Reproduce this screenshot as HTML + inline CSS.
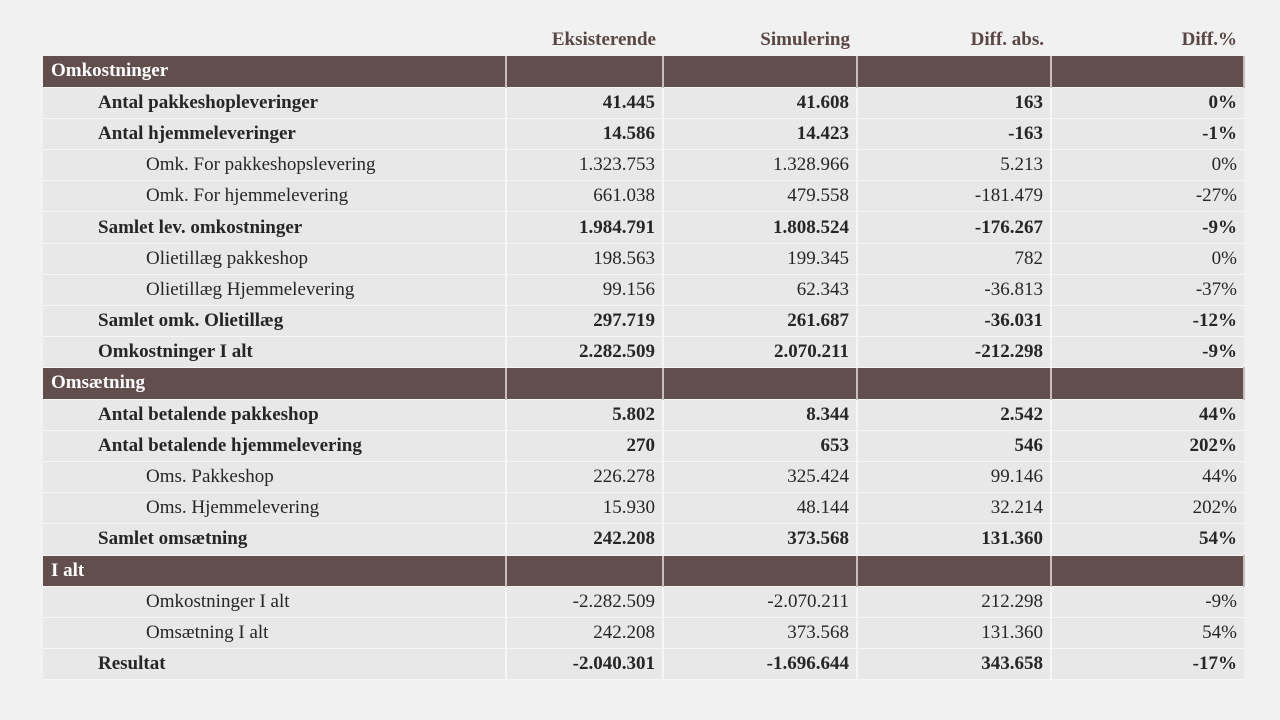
<!DOCTYPE html>
<html><head><meta charset="utf-8"><style>
html,body{margin:0;padding:0;background:#f1f1f1;width:1280px;height:720px;overflow:hidden}
table{position:absolute;left:43px;top:24px;border-collapse:collapse;table-layout:fixed;font-family:"Liberation Serif",serif;font-size:19px;color:#262626}
td{height:31.2px;padding:0 7px 0 0;text-align:right;border-right:2px solid #f6f6f6;border-bottom:1px solid #f6f6f6;box-sizing:border-box;white-space:nowrap;background:#e8e8e8}
td:first-child{text-align:left;padding-left:55px}
tr.h td{background:transparent;border:none;color:#5c4545;font-weight:bold;height:32px}
tr.s td{background:#634e4e;color:#fff;font-weight:bold;border-right:2px solid #c8bcbc;border-bottom:1px solid #f6f6f6}
tr.s td:first-child{padding-left:8px}
tr.b td{font-weight:bold}
tr.i td:first-child{padding-left:103px}
td:last-child{border-right:none}
</style></head><body>
<table>
<colgroup><col style="width:463px"><col style="width:157px"><col style="width:194px"><col style="width:194px"><col style="width:193px"></colgroup>
<tr class="h"><td></td><td>Eksisterende</td><td>Simulering</td><td>Diff. abs.</td><td>Diff.%</td></tr>
<tr class="s"><td>Omkostninger</td><td></td><td></td><td></td><td></td></tr>
<tr class="b"><td>Antal pakkeshopleveringer</td><td>41.445</td><td>41.608</td><td>163</td><td>0%</td></tr>
<tr class="b"><td>Antal hjemmeleveringer</td><td>14.586</td><td>14.423</td><td>-163</td><td>-1%</td></tr>
<tr class="i"><td>Omk. For pakkeshopslevering</td><td>1.323.753</td><td>1.328.966</td><td>5.213</td><td>0%</td></tr>
<tr class="i"><td>Omk. For hjemmelevering</td><td>661.038</td><td>479.558</td><td>-181.479</td><td>-27%</td></tr>
<tr class="b"><td>Samlet lev. omkostninger</td><td>1.984.791</td><td>1.808.524</td><td>-176.267</td><td>-9%</td></tr>
<tr class="i"><td>Olietillæg pakkeshop</td><td>198.563</td><td>199.345</td><td>782</td><td>0%</td></tr>
<tr class="i"><td>Olietillæg Hjemmelevering</td><td>99.156</td><td>62.343</td><td>-36.813</td><td>-37%</td></tr>
<tr class="b"><td>Samlet omk. Olietillæg</td><td>297.719</td><td>261.687</td><td>-36.031</td><td>-12%</td></tr>
<tr class="b"><td>Omkostninger I alt</td><td>2.282.509</td><td>2.070.211</td><td>-212.298</td><td>-9%</td></tr>
<tr class="s"><td>Omsætning</td><td></td><td></td><td></td><td></td></tr>
<tr class="b"><td>Antal betalende pakkeshop</td><td>5.802</td><td>8.344</td><td>2.542</td><td>44%</td></tr>
<tr class="b"><td>Antal betalende hjemmelevering</td><td>270</td><td>653</td><td>546</td><td>202%</td></tr>
<tr class="i"><td>Oms. Pakkeshop</td><td>226.278</td><td>325.424</td><td>99.146</td><td>44%</td></tr>
<tr class="i"><td>Oms. Hjemmelevering</td><td>15.930</td><td>48.144</td><td>32.214</td><td>202%</td></tr>
<tr class="b"><td>Samlet omsætning</td><td>242.208</td><td>373.568</td><td>131.360</td><td>54%</td></tr>
<tr class="s"><td>I alt</td><td></td><td></td><td></td><td></td></tr>
<tr class="i"><td>Omkostninger I alt</td><td>-2.282.509</td><td>-2.070.211</td><td>212.298</td><td>-9%</td></tr>
<tr class="i"><td>Omsætning I alt</td><td>242.208</td><td>373.568</td><td>131.360</td><td>54%</td></tr>
<tr class="b"><td>Resultat</td><td>-2.040.301</td><td>-1.696.644</td><td>343.658</td><td>-17%</td></tr>
</table>
</body></html>
